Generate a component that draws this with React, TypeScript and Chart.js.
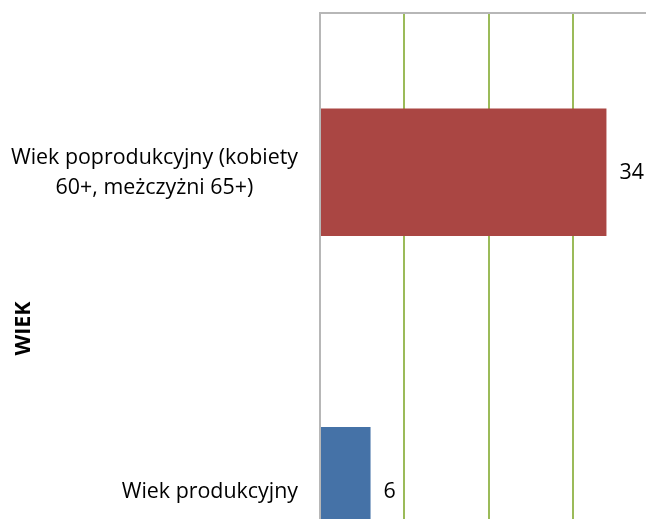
import React, { useEffect, useRef } from 'react';
import { Chart, registerables } from 'chart.js';

Chart.register(...registerables);

// ---- data ----
const categories: (string | string[])[] = [
  ['Wiek poprodukcyjny (kobiety', '60+, meżczyżni 65+)'],
  'Wiek produkcyjny',
];
const values: number[] = [34, 6];
const barColors: string[] = ['#AA4643', '#4572A7'];
const axisTitle = 'WIEK';
const xMin = 0;
const xMax = 40;
const xStep = 10;

// ---- style ----
const FONT_FAMILY = '"Open Sans", "Noto Sans", sans-serif';
const FONT_SIZE = 21.4;
const LINE_SPACING = 30;
const GRID_GREEN = '#9BBB59';
const AXIS_GRAY = '#B7B7B7';

const textPlugin = {
  id: 'excelText',
  afterDraw(chart: any) {
    const ctx: CanvasRenderingContext2D = chart.ctx;
    const yScale = chart.scales.y;
    const meta = chart.getDatasetMeta(0);
    ctx.save();
    ctx.fillStyle = '#000000';
    ctx.textBaseline = 'middle';
    ctx.font = `${FONT_SIZE}px ${FONT_FAMILY}`;

    // category labels: block right-aligned, lines centered within block
    const rightEdge = yScale.right - 22;
    categories.forEach((cat, i) => {
      const lines = Array.isArray(cat) ? cat : [cat];
      const py = yScale.getPixelForValue(i) + 1;
      const widest = Math.max(...lines.map((l) => ctx.measureText(l).width));
      const cx = rightEdge - widest / 2;
      ctx.textAlign = 'center';
      lines.forEach((l, j) => {
        ctx.fillText(l, cx, py + (j - (lines.length - 1) / 2) * LINE_SPACING);
      });
    });

    // value labels
    ctx.textAlign = 'left';
    meta.data.forEach((bar: any, i: number) => {
      ctx.fillText(String(values[i]), bar.x + 13, bar.y + 1);
    });

    // axis title
    ctx.font = `bold ${FONT_SIZE}px ${FONT_FAMILY}`;
    ctx.translate(23.5, (yScale.top + yScale.bottom) / 2 - 3);
    ctx.rotate(-Math.PI / 2);
    ctx.textAlign = 'center';
    ctx.fillText(axisTitle, 0, 0);
    ctx.restore();
  },
};

export default function App() {
  const canvasRef = useRef<HTMLCanvasElement | null>(null);

  useEffect(() => {
    if (!canvasRef.current) return;
    const chart = new Chart(canvasRef.current, {
      type: 'bar',
      data: {
        labels: categories,
        datasets: [
          {
            data: values,
            backgroundColor: barColors,
            borderWidth: 0,
            barPercentage: 0.4,
            categoryPercentage: 1.0,
          },
        ],
      },
      options: {
        indexAxis: 'y',
        animation: false,
        responsive: true,
        maintainAspectRatio: false,
        layout: { padding: { left: 0, top: 13, right: 3, bottom: 10 } },
        plugins: {
          legend: { display: false },
          tooltip: { enabled: false },
        },
        scales: {
          x: {
            position: 'top',
            min: xMin,
            max: xMax,
            ticks: { display: false, stepSize: xStep },
            grid: {
              color: (c: any) => (c.tick && c.tick.value === 0 ? 'rgba(0,0,0,0)' : GRID_GREEN),
              lineWidth: 2,
              drawTicks: false,
            },
            border: { display: true, color: AXIS_GRAY, width: 2 },
          },
          y: {
            ticks: { display: false },
            grid: { display: false, drawTicks: false },
            border: { display: true, color: AXIS_GRAY, width: 2 },
            afterFit: (s: any) => {
              s.width = 320;
            },
          },
        },
      },
      plugins: [textPlugin],
    });
    return () => chart.destroy();
  }, []);

  return (
    <div
      style={{
        position: 'fixed',
        left: 0,
        top: 0,
        width: 646,
        height: 519,
        overflow: 'hidden',
        background: '#ffffff',
      }}
    >
      <div style={{ position: 'relative', width: 660, height: 660 }}>
        <canvas ref={canvasRef} />
      </div>
    </div>
  );
}
